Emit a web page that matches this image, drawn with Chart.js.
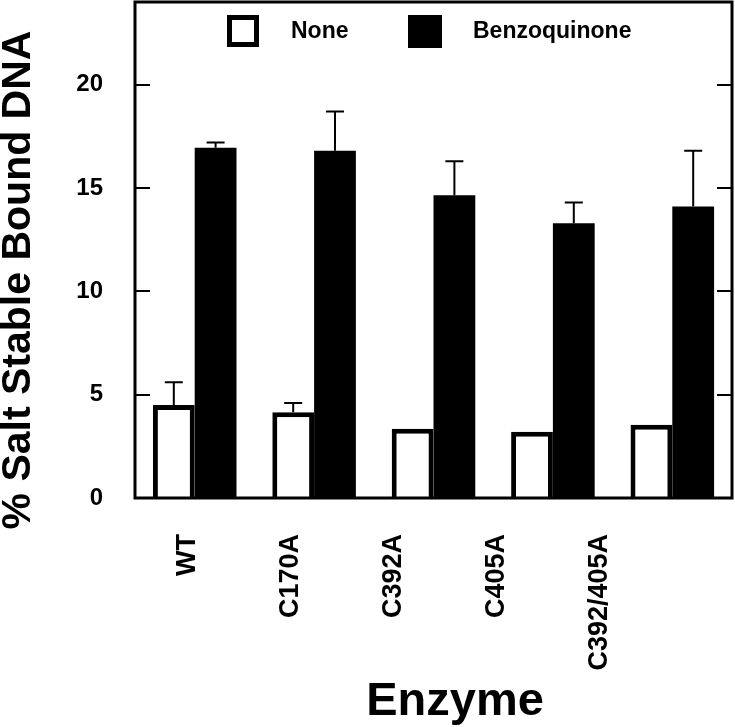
<!DOCTYPE html>
<html>
<head>
<meta charset="utf-8">
<script src="https://cdn.jsdelivr.net/npm/chart.js@4/dist/chart.umd.min.js"></script>
<style>
  html, body { margin: 0; padding: 0; background: #fff; }
  #wrap { width: 735px; height: 727px; position: relative; }
</style>
</head>
<body>
<div id="wrap"><canvas id="enzymeChart"></canvas></div>
<script>
// data
var categories = ['WT', 'C170A', 'C392A', 'C405A', 'C392/405A'];
var noneValues = [4.5, 4.15, 3.35, 3.2, 3.55];
var benzoValues = [16.95, 16.8, 14.65, 13.3, 14.1];
var noneErr = [1.1, 0.45, 0, 0, 0];
var benzoErr = [0.25, 1.9, 1.65, 1.0, 2.7];
var yTicks = [0, 5, 10, 15, 20];
var seriesNames = ['None', 'Benzoquinone'];

var FONT = "'Liberation Sans', Arial, sans-serif";

// error bars (upper only), frame with inward ticks, legend and axis titles
var extras = {
    id: 'extras',
    afterDatasetsDraw: function(chart) {
        var ctx = chart.ctx;
        var y = chart.scales.y;
        var errs = [noneErr, benzoErr];
        ctx.save();
        ctx.strokeStyle = '#000';
        ctx.lineWidth = 2;
        chart.data.datasets.forEach(function(ds, i) {
            var meta = chart.getDatasetMeta(i);
            meta.data.forEach(function(bar, j) {
                var e = errs[i][j];
                if (!e) return;
                var top = y.getPixelForValue(ds.data[j] + e);
                ctx.beginPath();
                ctx.moveTo(bar.x, bar.y);
                ctx.lineTo(bar.x, top);
                ctx.moveTo(bar.x - 9, top);
                ctx.lineTo(bar.x + 9, top);
                ctx.stroke();
            });
        });
        ctx.restore();
    },
    afterDraw: function(chart) {
        var ctx = chart.ctx;
        var a = chart.chartArea;
        var y = chart.scales.y;
        ctx.save();
        // frame
        ctx.strokeStyle = '#000';
        ctx.lineWidth = 3;
        ctx.strokeRect(a.left, a.top, a.right - a.left, a.bottom - a.top);
        // inward ticks on both sides
        ctx.lineWidth = 2;
        yTicks.forEach(function(v) {
            if (v === 0) return;
            var py = Math.round(y.getPixelForValue(v));
            ctx.beginPath();
            ctx.moveTo(a.left, py);
            ctx.lineTo(a.left + 15, py);
            ctx.moveTo(a.right - 15, py);
            ctx.lineTo(a.right, py);
            ctx.stroke();
        });
        // legend
        var boxes = [227, 408];
        var texts = [291, 473];
        chart.data.datasets.forEach(function(ds, i) {
            if (ds.backgroundColor === '#fff') {
                ctx.fillStyle = '#fff';
                ctx.fillRect(boxes[i], 15, 32, 32);
                ctx.lineWidth = 5;
                ctx.strokeRect(boxes[i] + 2.5, 17.5, 27, 27);
            } else {
                ctx.fillStyle = '#000';
                ctx.fillRect(boxes[i], 15, 34, 33);
            }
            ctx.fillStyle = '#000';
            ctx.font = 'bold 23px ' + FONT;
            ctx.textAlign = 'left';
            ctx.textBaseline = 'middle';
            ctx.fillText(ds.label, texts[i], 32);
        });
        // axis titles
        ctx.font = 'bold 41px ' + FONT;
        ctx.textAlign = 'center';
        ctx.textBaseline = 'middle';
        ctx.translate(19, 280);
        ctx.rotate(-Math.PI / 2);
        ctx.fillText('% Salt Stable Bound DNA', 0, 0);
        ctx.setTransform(1, 0, 0, 1, 0, 0);
        ctx.font = 'bold 47px ' + FONT;
        ctx.textBaseline = 'alphabetic';
        ctx.fillText('Enzyme', 455, 715);
        ctx.restore();
    }
};

var ctx = document.getElementById('enzymeChart').getContext('2d');
var enzymeChart = new Chart(ctx, {
    type: 'bar',
    data: {
        labels: categories,
        datasets: [{
            label: seriesNames[0],
            data: noneValues,
            backgroundColor: '#fff',
            borderColor: '#000',
            borderWidth: 5,
            borderSkipped: 'bottom'
        }, {
            label: seriesNames[1],
            data: benzoValues,
            backgroundColor: '#000',
            borderWidth: 0
        }]
    },
    options: {
        responsive: true,
        maintainAspectRatio: false,
        animation: false,
        layout: { padding: { top: 2, right: 3, left: 0, bottom: 0 } },
        datasets: { bar: { categoryPercentage: 0.7, barPercentage: 1.0 } },
        plugins: {
            legend: { display: false },
            tooltip: { enabled: false }
        },
        scales: {
            x: { display: false },
            // label axis: the tick labels sit a little tighter than the bar groups
            xl: {
                type: 'linear',
                position: 'bottom',
                offset: false,
                min: -0.515,
                max: 5.282,
                grid: { display: false, offset: false, drawTicks: false },
                border: { display: false },
                afterBuildTicks: function(scale) {
                    scale.ticks = categories.map(function(c, i) { return { value: i }; });
                },
                afterFit: function(scale) {
                    scale.height = 229;
                    scale.paddingLeft = 0;
                    scale.paddingRight = 0;
                },
                ticks: {
                    autoSkip: false,
                    minRotation: 90,
                    maxRotation: 90,
                    padding: 36,
                    color: '#000',
                    font: { family: FONT, size: 27, weight: 'bold' },
                    callback: function(v) { return categories[v]; }
                }
            },
            y: {
                min: 0,
                max: 24,
                grid: { display: false, drawTicks: false },
                border: { display: false },
                afterBuildTicks: function(scale) {
                    scale.ticks = yTicks.map(function(v) { return { value: v }; });
                },
                afterFit: function(scale) {
                    scale.width = 135;
                    scale.paddingTop = 0;
                    scale.paddingBottom = 0;
                },
                ticks: {
                    padding: 32,
                    color: '#000',
                    font: { family: FONT, size: 24, weight: 'bold' }
                }
            }
        }
    },
    plugins: [extras]
});
</script>
</body>
</html>
